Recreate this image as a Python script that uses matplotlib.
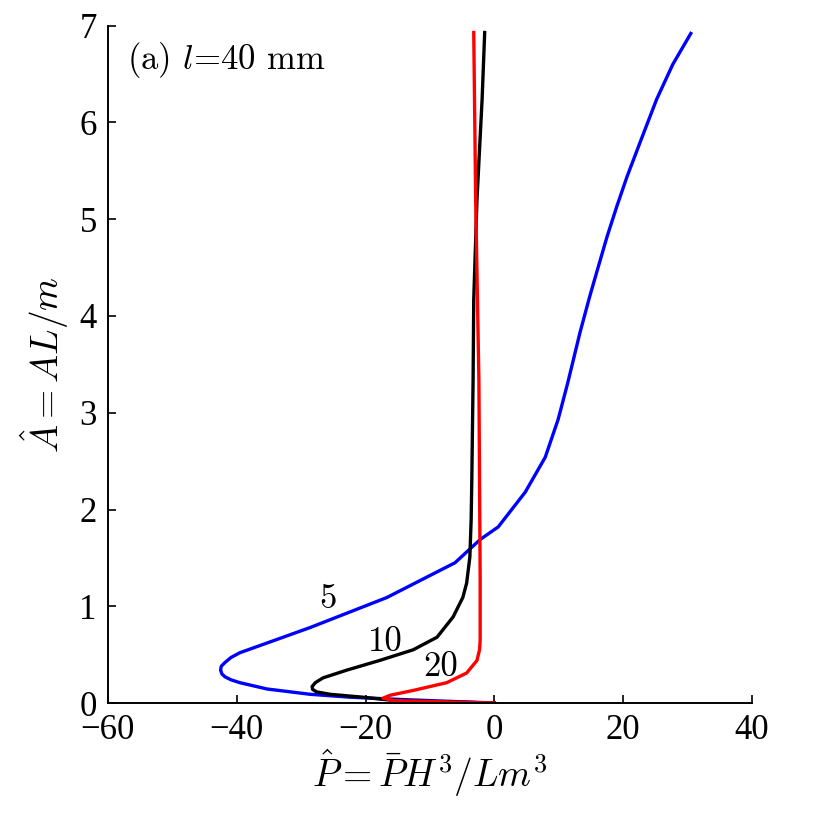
import numpy as np
import matplotlib
matplotlib.use("Agg")
from matplotlib import pyplot as plt

plt.rcParams["font.family"] = "Liberation Serif"
plt.rcParams["mathtext.fontset"] = "cm"

# curve for m = 5 (blue)
p5 = [30.5, 27.7, 25.2, 22.6, 20.6, 19.0, 17.5, 16.1, 14.8, 13.3, 11.4, 9.9, 7.9,
      4.8, 0.6, -2.2, -6.1, -16.7, -28.6, -35.3, -39.5, -40.9, -41.8, -42.4, -42.5,
      -42.3, -41.8, -40.9, -39.5, -35.3, -28.6, -22.4, -14.0, -6.0, 0.0]
a5 = [6.92, 6.60, 6.24, 5.79, 5.44, 5.13, 4.82, 4.50, 4.20, 3.83, 3.31, 2.93, 2.54,
      2.18, 1.82, 1.69, 1.45, 1.09, 0.78, 0.62, 0.52, 0.47, 0.42, 0.38, 0.34,
      0.30, 0.27, 0.24, 0.21, 0.145, 0.09, 0.06, 0.035, 0.015, 0.0]

# curve for m = 10 (black)
p10 = [-1.5, -1.9, -2.7, -3.2, -3.3, -3.5, -3.6, -3.8, -4.3, -4.9, -6.4, -8.9,
       -12.6, -17.8, -22.9, -26.6, -27.8, -28.3, -28.2, -27.6, -25.5, -20.4,
       -16.2, -8.0, 0.0]
a10 = [6.93, 6.24, 5.2, 4.17, 3.34, 2.31, 1.9, 1.51, 1.24, 1.09, 0.89, 0.68,
       0.55, 0.44, 0.34, 0.26, 0.21, 0.17, 0.14, 0.115, 0.09, 0.06,
       0.03, 0.012, 0.0]

# curve for m = 20 (red)
p20 = [-3.2, -2.9, -2.4, -2.2, -2.2, -2.3, -2.7, -4.3, -7.4, -12.6, -16.2,
       -17.3, -15.7, -8.0, 0.0]
a20 = [6.93, 5.2, 3.34, 1.27, 0.65, 0.55, 0.44, 0.31, 0.21, 0.13, 0.08,
       0.05, 0.025, 0.012, 0.0]

fig = plt.figure(figsize=(8.3, 8.3), dpi=100)
ax = fig.add_axes([0.130, 0.153, 0.776, 0.816])

ax.plot(p5, a5, color="#0000ff", lw=2.4, solid_joinstyle="round")
ax.plot(p10, a10, color="black", lw=2.4, solid_joinstyle="round")
ax.plot(p20, a20, color="#ff0000", lw=2.4, solid_joinstyle="round")

ax.text(-25.8, 1.07, "5", fontsize=25, ha="center", va="center", family="cmr10")
ax.text(-17.0, 0.63, "10", fontsize=25, ha="center", va="center", family="cmr10")
ax.text(-8.4, 0.37, "20", fontsize=25, ha="center", va="center", family="cmr10")
ax.text(-57.0, 6.65, r"(a) $l$=40 mm", fontsize=25, ha="left", va="center",
        family="cmr10")

ax.set_xlim(-60, 40)
ax.set_ylim(0, 7)
ax.set_xticks([-60, -40, -20, 0, 20, 40])
ax.set_yticks(range(0, 8))
ax.spines["top"].set_visible(False)
ax.spines["right"].set_visible(False)
for s in ["left", "bottom"]:
    ax.spines[s].set_linewidth(1.4)
ax.tick_params(direction="in", length=6, width=1.2, labelsize=25)
ax.tick_params(axis="x", pad=8)
ax.tick_params(axis="y", pad=8)

ax.set_xlabel(r"$\hat{P}=\bar{P}H^3/Lm^3$", fontsize=27, labelpad=0)
ax.set_ylabel(r"$\hat{A}=AL/m$", fontsize=27, labelpad=6)

fig.savefig("out.png", dpi=100)
